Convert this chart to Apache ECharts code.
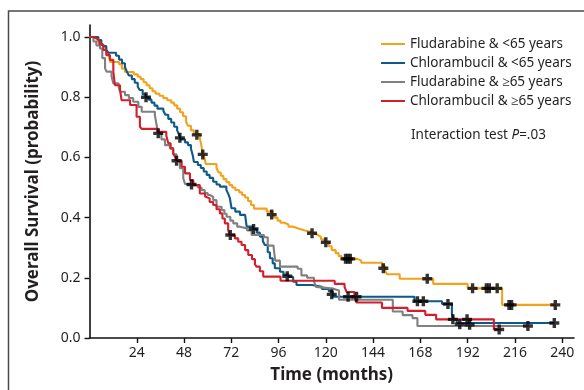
<!DOCTYPE html>
<html>
<head>
<meta charset="utf-8">
<script src="https://cdn.jsdelivr.net/npm/echarts@6/dist/echarts.min.js"></script>
<style>html,body{margin:0;padding:0;background:#fff}#c{width:584px;height:390px}</style>
</head>
<body>
<div id="c"></div>
<script>
// Series names
const seriesNames = ['Fludarabine & <65 years', 'Chlorambucil & <65 years', 'Fludarabine & \u226565 years', 'Chlorambucil & \u226565 years'];

// Kaplan-Meier steps [time (months), survival]
const fluYoung = [[0,1],[2,0.995],[4,0.985],[5.5,0.975],[7,0.965],[8.5,0.955],[9.5,0.945],[10.5,0.917],[15,0.91],[16.5,0.895],[18,0.884],[22.5,0.876],[24.5,0.868],[26,0.86],[27.5,0.85],[29,0.84],[30.5,0.83],[32,0.82],[33.5,0.812],[35.5,0.805],[37.5,0.797],[39.5,0.79],[41.5,0.782],[43,0.773],[44.5,0.762],[46,0.75],[47.5,0.737],[49,0.72],[50,0.705],[51.5,0.69],[53,0.678],[56,0.665],[56.8,0.64],[57.5,0.61],[58.5,0.595],[59,0.578],[64.5,0.565],[65.5,0.55],[66.7,0.539],[68,0.528],[69.5,0.518],[71,0.508],[72.5,0.5],[74,0.492],[76,0.484],[77.5,0.475],[79,0.467],[80.5,0.455],[82,0.442],[83.5,0.43],[90,0.42],[93,0.41],[94,0.4],[95.5,0.39],[97,0.383],[99,0.377],[101,0.37],[103.5,0.364],[106,0.358],[109,0.353],[112,0.348],[114,0.342],[116,0.336],[117.5,0.328],[119.5,0.318],[121.5,0.305],[123,0.292],[125,0.282],[126.5,0.272],[128,0.263],[136,0.257],[138,0.25],[148.5,0.238],[150,0.225],[151,0.212],[157.5,0.197],[174.5,0.18],[192,0.165],[209.5,0.11],[237,0.11]];
const chlYoung = [[0,1],[3,1],[4.5,0.99],[6,0.98],[7,0.97],[8.5,0.958],[9.5,0.948],[13.5,0.938],[15,0.925],[16.5,0.913],[18,0.9],[19,0.885],[20,0.872],[21.5,0.86],[23,0.848],[24.5,0.835],[25.5,0.824],[27,0.81],[28.5,0.8],[30,0.792],[31.5,0.782],[33,0.772],[34.5,0.762],[37.5,0.755],[38.5,0.742],[40,0.728],[41.5,0.716],[43,0.702],[44.5,0.69],[45.5,0.675],[46.5,0.66],[48.5,0.65],[50,0.641],[51.5,0.63],[52.5,0.605],[53,0.585],[55,0.575],[56.5,0.565],[58,0.553],[59.5,0.542],[61,0.532],[62.8,0.519],[64.5,0.51],[66.2,0.503],[69.5,0.492],[70.5,0.478],[71.3,0.464],[72.1,0.431],[74,0.42],[76.4,0.409],[79,0.403],[79.8,0.37],[83,0.362],[85,0.35],[86.5,0.337],[88,0.322],[89,0.309],[90.5,0.285],[91.6,0.265],[93,0.248],[94.1,0.232],[96.7,0.22],[98.5,0.21],[101,0.203],[103.4,0.187],[105.1,0.176],[113,0.17],[118,0.163],[121.5,0.155],[123.5,0.137],[165,0.122],[179,0.113],[184,0.08],[185,0.062],[186.5,0.05],[236,0.05]];
const fluOld = [[0,1],[2,0.985],[3.5,0.972],[5.3,0.962],[6.5,0.93],[7.9,0.896],[8.7,0.885],[11.2,0.87],[12.1,0.846],[14.8,0.835],[15.5,0.818],[18,0.807],[20,0.797],[22.2,0.785],[24.8,0.768],[26.5,0.752],[33.2,0.74],[34,0.71],[34.9,0.68],[36.5,0.66],[38.3,0.641],[40.8,0.63],[42.5,0.61],[44.2,0.589],[45.9,0.564],[47.6,0.531],[48.5,0.512],[49.3,0.508],[55,0.5],[56.9,0.492],[58.5,0.482],[60,0.475],[61.1,0.469],[62.8,0.458],[64.5,0.436],[67.1,0.425],[68.5,0.413],[69.6,0.403],[71.5,0.39],[73,0.381],[75,0.37],[76.4,0.364],[80,0.357],[82.3,0.342],[88.6,0.335],[90.5,0.307],[93.5,0.3],[94.3,0.257],[96.7,0.237],[105.7,0.23],[107.6,0.208],[110.5,0.2],[114,0.188],[115,0.17],[116,0.164],[123.8,0.158],[126.7,0.127],[154,0.088],[159,0.076],[164,0.066],[166.5,0.04],[223,0.04]];
const chlOld = [[0,1],[2,0.995],[3.6,0.99],[5,0.975],[7,0.957],[8.5,0.94],[10.4,0.924],[12.1,0.885],[12.9,0.84],[15.5,0.824],[16.3,0.79],[20.6,0.774],[23.9,0.735],[25.6,0.702],[26.5,0.695],[34.5,0.685],[39,0.672],[40,0.647],[41.2,0.63],[42.5,0.614],[43.5,0.6],[44.2,0.589],[46.8,0.569],[48.5,0.547],[51,0.525],[52.7,0.508],[56,0.48],[58.7,0.47],[59.5,0.464],[61,0.452],[62.8,0.442],[64.5,0.428],[66.2,0.414],[67.5,0.397],[68.7,0.381],[70.4,0.359],[71.2,0.342],[73.8,0.331],[75.5,0.32],[77.2,0.309],[79,0.292],[80.6,0.276],[82.5,0.262],[84,0.245],[84.8,0.237],[86.5,0.222],[88.2,0.204],[97,0.19],[124.5,0.18],[129.5,0.17],[130.5,0.153],[134.5,0.135],[135.5,0.118],[148.5,0.1],[161.5,0.09],[170.5,0.077],[176,0.062],[205.3,0.028],[209,0.028]];

// Censored observations [time, survival]
const fluYoungCens = [[54.5,0.675],[57.5,0.61],[92.5,0.41],[113,0.348],[120,0.318],[130,0.263],[131.2,0.263],[132.4,0.263],[149.2,0.232],[171.5,0.197],[194.5,0.165],[201.5,0.165],[203,0.165],[207,0.165],[213,0.11],[214.3,0.11],[236.5,0.11]];
const chlYoungCens = [[28.7,0.8],[45.9,0.665],[83.3,0.362],[100.4,0.205],[123,0.145],[131.3,0.137],[135.6,0.137],[166.5,0.122],[169.5,0.122],[182,0.113],[236,0.05]];
const fluOldCens = [[34.9,0.68],[51.8,0.51],[188,0.046],[193,0.044],[222.6,0.04]];
const chlOldCens = [[44.2,0.589],[71.5,0.342],[184.5,0.062],[191.7,0.062],[208,0.028]];

// Axis ticks
const xTicks = [24,48,72,96,120,144,168,192,216,240];
const yTicks = [0,0.2,0.4,0.6,0.8,1.0];

const colors = ['#f2a31b','#0e5a84','#808080','#d11f2d'];
const curves = [fluYoung, chlYoung, fluOld, chlOld];
const cens = [fluYoungCens, chlYoungCens, fluOldCens, chlOldCens];
const plus = 'path://M3.3,0H6.7V3.3H10V6.7H6.7V10H3.3V6.7H0V3.3H3.3Z';
const txt = '#231f20';
const font = 'Noto Sans';

const series = [];
curves.forEach((d, i) => {
  series.push({
    name: seriesNames[i], type: 'line', step: 'end', data: d, showSymbol: false,
    lineStyle: {color: colors[i], width: 2.1}, itemStyle: {color: colors[i]}, z: 2 + i, silent: true
  });
});
cens.forEach((d, i) => {
  series.push({
    type: 'scatter', data: d, symbol: plus, symbolSize: 10,
    itemStyle: {color: '#000'}, z: 10, silent: true
  });
});

const chart = echarts.init(document.getElementById('c'), null, {renderer: 'canvas'});
chart.setOption({
  animation: false,
  backgroundColor: '#fff',
  textStyle: {fontFamily: font},
  grid: {left: 89.5, right: 10, top: 25, bottom: 52, containLabel: false},
  xAxis: {
    type: 'value', min: 0, max: 246,
    name: 'Time (months)', nameLocation: 'middle', nameGap: 29,
    nameTextStyle: {fontSize: 17, fontWeight: 'bold', color: txt, fontFamily: font},
    axisLine: {lineStyle: {color: '#111', width: 1.6}},
    axisTick: {customValues: xTicks, length: 5, lineStyle: {color: '#111', width: 1.4}},
    axisLabel: {customValues: xTicks, fontSize: 14, color: txt, margin: 8, fontFamily: font},
    splitLine: {show: false}
  },
  yAxis: {
    type: 'value', min: 0, max: 1.04,
    name: 'Overall Survival (probability)', nameLocation: 'middle', nameGap: 48,
    nameTextStyle: {fontSize: 17, fontWeight: 'bold', color: txt, fontFamily: font},
    axisLine: {lineStyle: {color: '#111', width: 1.6}},
    axisTick: {customValues: yTicks, length: 5, lineStyle: {color: '#111', width: 1.4}},
    axisLabel: {customValues: yTicks, fontSize: 14, color: txt, margin: 9, fontFamily: font,
      formatter: v => v.toFixed(1)},
    splitLine: {show: false}
  },
  legend: {
    data: seriesNames, orient: 'vertical', left: 381, top: 37, padding: 0,
    icon: 'rect', itemWidth: 24, itemHeight: 2, itemGap: 5,
    textStyle: {fontSize: 13.5, color: txt, fontFamily: font}
  },
  graphic: [
    {type: 'rect', shape: {x: 8.5, y: 11, width: 700, height: 500}, style: {fill: 'none', stroke: '#4a4a4a', lineWidth: 1.5}, silent: true, z: -1},
    {type: 'text', left: 411, top: 128.5, style: {
      text: '{a|Interaction test }{b|P}{a|=.03}',
      rich: {a: {fontSize: 13.5, fill: txt, fontFamily: font}, b: {fontSize: 13.5, fill: txt, fontStyle: 'italic', fontFamily: font}}
    }}
  ],
  series: series
});
</script>
</body>
</html>
